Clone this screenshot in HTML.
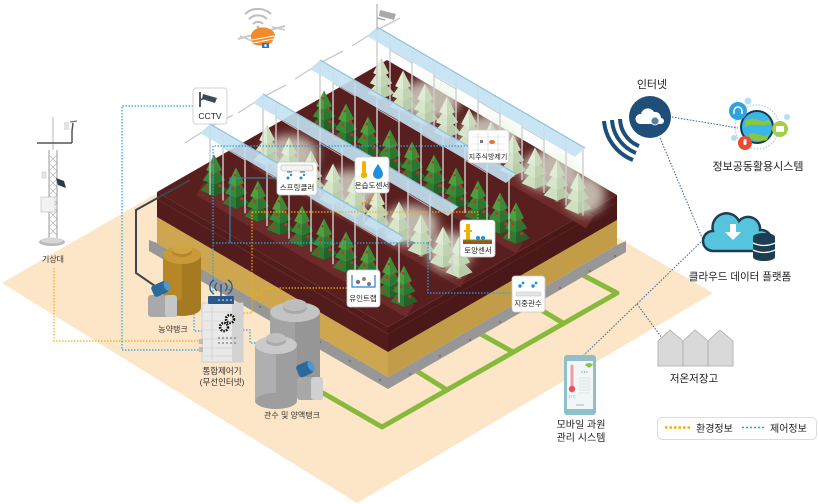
<!DOCTYPE html>
<html><head><meta charset="utf-8"><style>
html,body{margin:0;padding:0;background:#fff;}
svg{display:block;}
text{font-family:"Liberation Sans","Noto Sans CJK KR",sans-serif;}
</style></head><body>
<svg width="818" height="504" viewBox="0 0 818 504" xmlns="http://www.w3.org/2000/svg">
<defs>
<filter id="bl" x="-50%" y="-50%" width="200%" height="200%"><feGaussianBlur stdDeviation="5"/></filter>
<g id="t"><g transform="scale(1.12)">
<rect x="-2" y="-5" width="4" height="5" fill="#5b3417"/>
<polygon points="-12,-6 0,-1 12,-6 0,-19" fill="#2f7b2f"/>
<polygon points="0,-1 12,-6 0,-19" fill="#236327"/>
<polygon points="-10,-15 0,-11 10,-15 0,-29" fill="#3b8b36"/>
<polygon points="0,-11 10,-15 0,-29" fill="#2d7530"/>
<polygon points="-7,-24 0,-21 7,-24 0,-38" fill="#4e9f3d"/>
<polygon points="0,-21 7,-24 0,-38" fill="#3a8a35"/>
<circle cx="-6" cy="-8" r="1.3" fill="#d9262b"/>
<circle cx="5" cy="-10" r="1.3" fill="#d9262b"/>
<circle cx="-3" cy="-19" r="1.2" fill="#d9262b"/>
<circle cx="4" cy="-22" r="1.2" fill="#d9262b"/>
<circle cx="-1" cy="-31" r="1.1" fill="#d9262b"/>
</g></g>
<g id="m"><g transform="scale(1.12)">
<rect x="-2" y="-5" width="4" height="5" fill="#8a6a50"/>
<polygon points="-12,-6 0,-1 12,-6 0,-19" fill="#cfe0c2"/>
<polygon points="0,-1 12,-6 0,-19" fill="#b8cca9"/>
<polygon points="-10,-15 0,-11 10,-15 0,-29" fill="#d7e6cb"/>
<polygon points="0,-11 10,-15 0,-29" fill="#c0d3b2"/>
<polygon points="-7,-24 0,-21 7,-24 0,-38" fill="#e0ecd6"/>
<polygon points="0,-21 7,-24 0,-38" fill="#c9dabb"/>
</g></g>
</defs>

<!-- ground -->
<polygon points="2,283 357,503 713,293 349,82" fill="#fde6c7"/>

<!-- green pipes -->
<g stroke="#86b93c" stroke-width="5" fill="none" stroke-linecap="round" stroke-linejoin="round">
<polyline points="323,393 382,427 617,293 577,272"/>
<line x1="447" y1="390" x2="415" y2="370"/>
<line x1="513" y1="352" x2="477" y2="332"/>
<line x1="563" y1="323" x2="543" y2="311"/>
</g>

<!-- gravel -->
<polygon points="149,240 157,243 388,377 617,245 626,241 626,252 388,389 149,251" fill="#979797"/>
<g fill="#777">
<circle cx="170" cy="254" r="1.2"/><circle cx="200" cy="271" r="1.2"/><circle cx="230" cy="290" r="1.2"/><circle cx="260" cy="307" r="1.2"/><circle cx="290" cy="325" r="1.2"/><circle cx="320" cy="342" r="1.2"/><circle cx="350" cy="361" r="1.2"/><circle cx="380" cy="380" r="1.2"/><circle cx="410" cy="374" r="1.2"/><circle cx="440" cy="356" r="1.2"/><circle cx="470" cy="340" r="1.2"/><circle cx="500" cy="322" r="1.2"/><circle cx="530" cy="304" r="1.2"/><circle cx="560" cy="288" r="1.2"/><circle cx="590" cy="271" r="1.2"/><circle cx="615" cy="256" r="1.2"/>
</g>
<!-- yellow layer -->
<polygon points="157,217 388,352 388,377 157,243" fill="#cda64f"/>
<polygon points="388,352 617,220 617,245 388,377" fill="#c29c47"/>
<!-- dark soil -->
<polygon points="157,192 388,327 388,352 157,217" fill="#531c1c"/>
<polygon points="388,327 617,195 617,220 388,352" fill="#4a1818"/>
<polygon points="157,192 387,60 617,195 388,327" fill="#591f1f"/>
<line x1="157" y1="199" x2="388" y2="334" stroke="#6a2a2a" stroke-width="1"/>
<line x1="388" y1="334" x2="617" y2="202" stroke="#5e2222" stroke-width="1"/>

<!-- beds -->
<g stroke="#6c2a2a" stroke-width="15" stroke-linecap="butt">
<line x1="200" y1="189" x2="410" y2="311"/>
<line x1="255" y1="160" x2="464" y2="281"/>
<line x1="312" y1="126" x2="520" y2="247"/>
<line x1="368" y1="93" x2="590" y2="222"/>
</g>

<!-- ridge 4 (misty) -->
<g>
<g filter="url(#bl)" fill="#eef6e6" opacity="0.7">
<ellipse cx="430" cy="100" rx="30" ry="20"/><ellipse cx="490" cy="135" rx="30" ry="20"/><ellipse cx="550" cy="170" rx="30" ry="20"/><ellipse cx="585" cy="195" rx="20" ry="20"/>
</g>
<use href="#m" x="381" y="100"/><use href="#m" x="403" y="113"/><use href="#m" x="425" y="126"/><use href="#m" x="447" y="139"/><use href="#m" x="469" y="151"/><use href="#m" x="491" y="164"/><use href="#m" x="513" y="177"/><use href="#m" x="535" y="190"/><use href="#m" x="557" y="202"/><use href="#m" x="578" y="215"/>
<path d="M390,37.5v66M412,50.3v66M434,63.1v66M456,75.8v66M478,88.6v66M500,101.3v66M522,114.1v66M544,126.9v66M566,139.6v66M583,149.5v66" stroke="#cfcfcf" stroke-width="1.4"/>
<path d="M390,50 L412,63 M434,76 L456,89 M478,101 L500,114 M522,127 L544,140" stroke="#c4c4c4" stroke-width="1" fill="none"/>
<path d="M377,30 L352,46 M377,30 L400,18 M377,30 V98" stroke="#c8c8c8" stroke-width="1.3" fill="none"/>
<polygon points="377,27 585,148 575,157 367,36" fill="#c3e1f2" opacity="0.9"/>
<line x1="377" y1="27" x2="585" y2="148" stroke="#8ec0de" stroke-width="1.2"/>
</g>

<!-- ridge 3 (green) -->
<g>
<use href="#t" x="324" y="133"/><use href="#t" x="346" y="146"/><use href="#t" x="368" y="159"/><use href="#t" x="390" y="172"/><use href="#t" x="412" y="184"/><use href="#t" x="434" y="197"/><use href="#t" x="456" y="210"/><use href="#t" x="478" y="223"/><use href="#t" x="500" y="235"/><use href="#t" x="516" y="245"/>
<path d="M333,70.5v66M355,83.3v66M377,96.1v66M399,108.8v66M421,121.6v66M443,134.3v66M465,147.1v66M487,159.9v66M509,172.6v66" stroke="#cfcfcf" stroke-width="1.4"/>
<path d="M333,83 L355,96 M377,109 L399,122 M421,134 L443,147 M465,160 L487,173" stroke="#c4c4c4" stroke-width="1" fill="none"/>
<path d="M320,63 L295,79 M320,63 L343,51 M320,63 V131" stroke="#c8c8c8" stroke-width="1.3" fill="none"/>
<polygon points="320,60 516,174 506,183 310,69" fill="#c3e1f2" opacity="0.9"/>
<line x1="320" y1="60" x2="516" y2="174" stroke="#8ec0de" stroke-width="1.2"/>
</g>

<!-- ridge 2 (misty) -->
<g>
<g filter="url(#bl)" fill="#eef6e6" opacity="0.7">
<ellipse cx="290" cy="155" rx="28" ry="20"/><ellipse cx="350" cy="190" rx="28" ry="20"/><ellipse cx="410" cy="225" rx="28" ry="20"/><ellipse cx="450" cy="252" rx="22" ry="20"/>
</g>
<use href="#m" x="267" y="167"/><use href="#m" x="289" y="180"/><use href="#m" x="311" y="193"/><use href="#m" x="333" y="206"/><use href="#m" x="355" y="218"/><use href="#m" x="377" y="231"/><use href="#m" x="399" y="244"/><use href="#m" x="421" y="257"/><use href="#m" x="443" y="269"/><use href="#m" x="459" y="279"/>
<path d="M276,104.5v66M298,117.3v66M320,130.1v66M342,142.8v66M364,155.6v66M386,168.3v66M408,181.1v66M430,193.9v66M452,206.6v66" stroke="#cfcfcf" stroke-width="1.4"/>
<path d="M276,117 L298,130 M320,143 L342,156 M364,168 L386,181 M408,194 L430,207" stroke="#c4c4c4" stroke-width="1" fill="none"/>
<path d="M263,97 L238,113 M263,97 L286,85 M263,97 V165" stroke="#c8c8c8" stroke-width="1.3" fill="none"/>
<polygon points="263,94 458,207 448,216 253,103" fill="#c3e1f2" opacity="0.9"/>
<line x1="263" y1="94" x2="458" y2="207" stroke="#8ec0de" stroke-width="1.2"/>
</g>

<!-- ridge 1 (green) -->
<g>
<use href="#t" x="214" y="197"/><use href="#t" x="236" y="210"/><use href="#t" x="258" y="223"/><use href="#t" x="280" y="236"/><use href="#t" x="302" y="248"/><use href="#t" x="324" y="261"/><use href="#t" x="346" y="274"/><use href="#t" x="368" y="287"/><use href="#t" x="390" y="299"/><use href="#t" x="404" y="308"/>
<path d="M223,134.5v66M245,147.3v66M267,160.1v66M289,172.8v66M311,185.6v66M333,198.3v66M355,211.1v66M377,223.9v66M399,236.6v66" stroke="#cfcfcf" stroke-width="1.4"/>
<path d="M223,147 L245,160 M267,173 L289,186 M311,198 L333,211 M355,224 L377,237" stroke="#c4c4c4" stroke-width="1" fill="none"/>
<path d="M210,127 L185,143 M210,127 L233,115 M210,124 V195" stroke="#c8c8c8" stroke-width="1.3" fill="none"/>
<polygon points="210,124 404,237 394,246 200,133" fill="#c3e1f2" opacity="0.9"/>
<line x1="210" y1="124" x2="404" y2="237" stroke="#8ec0de" stroke-width="1.2"/>
</g>

<!-- top CCTV -->
<line x1="377" y1="4" x2="377" y2="30" stroke="#c0c0c0" stroke-width="1.5"/>
<path d="M380,10 l16,4 l-2,6 l-15,-4 z" fill="#a9a9a9"/>
<line x1="377" y1="18" x2="385" y2="20" stroke="#a9a9a9" stroke-width="1.5"/>

<!-- drone -->
<g>
<path d="M249,19 a13,13 0 0 1 18,0" stroke="#bdbdbd" stroke-width="2" fill="none"/>
<path d="M245,14 a19,19 0 0 1 26,0" stroke="#bdbdbd" stroke-width="2" fill="none"/>
<path d="M253,24 a7,7 0 0 1 10,0" stroke="#bdbdbd" stroke-width="2" fill="none"/>
<circle cx="258" cy="27" r="1.5" fill="#bdbdbd"/>
<line x1="238" y1="39" x2="285" y2="26" stroke="#c9c9c9" stroke-width="2"/>
<line x1="240" y1="36" x2="252" y2="41" stroke="#c9c9c9" stroke-width="1.5"/>
<line x1="272" y1="27" x2="285" y2="30" stroke="#c9c9c9" stroke-width="1.5"/>
<path d="M251,38 a12,9 0 0 1 24,-3 l-2,5 a12,6 0 0 1 -20,4 z" fill="#f08a2c"/>
<path d="M252,40 l22,-4" stroke="#fff" stroke-width="1"/>
<path d="M253,43 l20,-4" stroke="#fff" stroke-width="1"/>
<rect x="262" y="43" width="7" height="5" fill="#2e76b8"/>
<circle cx="265.5" cy="45.5" r="1.3" fill="#fff"/>
</g>

<!-- weather station -->
<g>
<line x1="53" y1="117" x2="53" y2="150" stroke="#cfcfcf" stroke-width="1.5"/>
<line x1="37" y1="143" x2="72" y2="143" stroke="#555" stroke-width="1.5"/>
<polyline points="72,143 72,131 73,123" stroke="#555" stroke-width="1.5" fill="none"/>
<rect x="64" y="122" width="5" height="8" fill="#e2e2e2"/>
<line x1="70" y1="122" x2="77" y2="121" stroke="#555" stroke-width="1"/>
<line x1="49" y1="150" x2="49" y2="238" stroke="#9a9a9a" stroke-width="1"/>
<line x1="57" y1="150" x2="57" y2="238" stroke="#9a9a9a" stroke-width="1"/>
<path d="M49,155 L57,163 L49,171 L57,179 L49,187 L57,195 L49,203 L57,211 L49,219 L57,227 L49,235 M57,155 L49,163 L57,171 L49,179 L57,187 L49,195 L57,203 L49,211 L57,219 L49,227 L57,235" stroke="#b5b5b5" stroke-width="0.7" fill="none"/>
<polygon points="56,178 64,181 66,188 58,185" fill="#2d3a44"/>
<rect x="42" y="172" width="4" height="6" fill="#e8e8e8" stroke="#bbb" stroke-width="0.5"/>
<rect x="41" y="197" width="14" height="15" fill="#f2f2f2" stroke="#c5c5c5" stroke-width="0.7"/>
<ellipse cx="52" cy="242" rx="13" ry="4" fill="#b9b9b9"/>
<ellipse cx="52" cy="240.5" rx="11" ry="3" fill="#d6d6d6"/>
</g>

<!-- dotted lines: yellow (env) -->
<g stroke="#f2b100" stroke-width="1.2" stroke-dasharray="1.5 1.5" fill="none">
<polyline points="54,268 54,341 200,341"/>
<polyline points="252,212 478,212 478,221"/>
<polyline points="372,194 372,202 362,202 362,212"/>
<polyline points="252,212 252,313 243,313"/>
<polyline points="347,288 262,288 262,295 252,295"/>
</g>
<!-- dotted lines: blue (control) -->
<g stroke="#1ea6e2" stroke-width="1.2" stroke-dasharray="1.5 1.5" fill="none">
<polyline points="193,106 122,106 122,350 202,350"/>
<polyline points="468,146 213,146 213,296"/>
<polyline points="213,243 428,243 428,293 512,293"/>
<polyline points="178,312 194,312 194,331 202,331"/>
<polyline points="243,330 250,330 250,343 258,343"/>
</g>
<g stroke="#2c8fc0" stroke-width="1.1" fill="none">
<polyline points="277,178 230,178 230,243"/>
</g>

<!-- dark cable -->
<polyline points="190,180 136,210 136,273 155,286" stroke="#3d4550" stroke-width="2" fill="none"/>

<!-- pesticide tank -->
<g>
<rect x="163" y="255" width="38" height="53" fill="#b68726"/>
<rect x="182" y="255" width="19" height="53" fill="#a67a20"/>
<ellipse cx="182" cy="308" rx="19" ry="8" fill="#a67a20"/>
<ellipse cx="182" cy="255" rx="19" ry="9" fill="#c99a3a"/>
<ellipse cx="182" cy="252" rx="10" ry="5" fill="#b68726"/>
<ellipse cx="182" cy="249" rx="10" ry="5" fill="#d0a444"/>
<rect x="148" y="295" width="29" height="22" rx="3" fill="#a9a9a9"/>
<rect x="165" y="295" width="12" height="22" rx="3" fill="#c6c6c6"/>
<rect x="152" y="283" width="16" height="12" rx="3" fill="#2b6a9a" transform="rotate(-25 160 289)"/>
<ellipse cx="167" cy="286" rx="3" ry="5" fill="#4f98cf" transform="rotate(-25 167 286)"/>
</g>
<text x="173" y="332" font-size="8" text-anchor="middle" fill="#333">농약탱크</text>

<!-- controller -->
<g>
<rect x="202" y="303" width="41" height="59" fill="#e9e9e9" stroke="#c9c9c9" stroke-width="0.8"/>
<rect x="232" y="303" width="11" height="59" fill="#d2d2d2"/>
<g stroke="#cfcfcf" stroke-width="0.8"><line x1="204" y1="312" x2="232" y2="312"/><line x1="204" y1="321" x2="232" y2="321"/><line x1="204" y1="330" x2="232" y2="330"/><line x1="204" y1="339" x2="232" y2="339"/><line x1="204" y1="348" x2="232" y2="348"/><line x1="204" y1="356" x2="232" y2="356"/><line x1="212" y1="305" x2="212" y2="360"/></g>
<circle cx="230" cy="319" r="4" fill="none" stroke="#111" stroke-width="2.5" stroke-dasharray="1.6 1.1"/>
<circle cx="224" cy="327" r="4" fill="none" stroke="#111" stroke-width="2.5" stroke-dasharray="1.6 1.1"/>
<g fill="#777"><circle cx="219" cy="338" r="0.9"/><circle cx="223" cy="338" r="0.9"/><circle cx="227" cy="338" r="0.9"/><circle cx="231" cy="338" r="0.9"/><circle cx="235" cy="338" r="0.9"/><circle cx="219" cy="343" r="0.9"/><circle cx="223" cy="343" r="0.9"/><circle cx="227" cy="343" r="0.9"/><circle cx="231" cy="343" r="0.9"/><circle cx="235" cy="343" r="0.9"/></g>
<rect x="199" y="339" width="4" height="5" fill="#bbb"/><rect x="199" y="347" width="4" height="5" fill="#bbb"/>
<rect x="208" y="296" width="26" height="8" rx="1" fill="#2a5a8c"/>
<g fill="#fff"><circle cx="219" cy="300" r="0.8"/><circle cx="223" cy="300" r="0.8"/><circle cx="227" cy="300" r="0.8"/><circle cx="231" cy="300" r="0.8"/></g>
<line x1="221" y1="296" x2="221" y2="284" stroke="#2a5a8c" stroke-width="1.5"/>
<g stroke="#2a5a8c" stroke-width="1.3" fill="none">
<path d="M217,283 a5,5 0 0 0 0,8"/><path d="M225,283 a5,5 0 0 1 0,8"/>
<path d="M214,280 a8,8 0 0 0 0,14"/><path d="M228,280 a8,8 0 0 1 0,14"/>
</g>
</g>
<text x="222" y="374" font-size="8.5" text-anchor="middle" fill="#333">통합제어기</text>
<text x="222" y="385" font-size="8.5" text-anchor="middle" fill="#333">(무선인터넷)</text>

<!-- irrigation tanks -->
<g>
<rect x="270" y="312" width="50" height="72" fill="#a3a3a3"/>
<rect x="295" y="312" width="25" height="72" fill="#969696"/>
<ellipse cx="295" cy="384" rx="25" ry="9" fill="#969696"/>
<ellipse cx="295" cy="312" rx="25" ry="10" fill="#c4c4c4"/>
<ellipse cx="295" cy="308" rx="12" ry="6" fill="#a9a9a9"/>
<ellipse cx="295" cy="305" rx="12" ry="6" fill="#bdbdbd"/>
<rect x="255" y="345" width="42" height="56" fill="#afafaf"/>
<rect x="276" y="345" width="21" height="56" fill="#9e9e9e"/>
<ellipse cx="276" cy="401" rx="21" ry="8" fill="#9e9e9e"/>
<ellipse cx="276" cy="345" rx="21" ry="9" fill="#cacaca"/>
<ellipse cx="276" cy="341" rx="10" ry="5" fill="#aaa"/>
<ellipse cx="276" cy="338" rx="10" ry="5" fill="#c0c0c0"/>
<rect x="297" y="377" width="26" height="23" rx="3" fill="#a8a8a8"/>
<rect x="311" y="377" width="12" height="23" rx="3" fill="#d0d0d0"/>
<rect x="297" y="363" width="15" height="13" rx="3" fill="#2b6a9a" transform="rotate(-25 304 369)"/>
<ellipse cx="311" cy="366" rx="3" ry="5.5" fill="#4f98cf" transform="rotate(-25 311 366)"/>
</g>
<text x="292" y="418" font-size="8" text-anchor="middle" fill="#333">관수 및 양액탱크</text>
<text x="53" y="262" font-size="8" text-anchor="middle" fill="#333">기상대</text>

<!-- label boxes -->
<g>
<rect x="193" y="88" width="34" height="36" rx="3" fill="#fff" stroke="#c8c8c8" stroke-width="0.8"/>
<line x1="200" y1="92" x2="200" y2="107" stroke="#3b4a5a" stroke-width="1.8"/>
<path d="M200,100 l5,-2" stroke="#3b4a5a" stroke-width="1.5"/>
<path d="M203,94 l14,4 l-2,5 l-13,-4 z" fill="#3b4a5a"/>
<circle cx="213" cy="100" r="1.2" fill="#3b4a5a"/>
<text x="210" y="119" font-size="8.5" text-anchor="middle" fill="#222">CCTV</text>

<rect x="277" y="162" width="40" height="33" rx="3" fill="#fff" stroke="#c8c8c8" stroke-width="0.8"/>
<rect x="281" y="165" width="32" height="6" rx="2" fill="#f3f3f3" stroke="#aaa" stroke-width="0.6"/>
<line x1="287" y1="172" x2="292" y2="172" stroke="#333" stroke-width="0.8"/><line x1="300" y1="172" x2="305" y2="172" stroke="#333" stroke-width="0.8"/>
<circle cx="288" cy="178" r="1.5" fill="#1e8fd8"/><circle cx="291" cy="175" r="1.2" fill="#1e8fd8"/><circle cx="301" cy="178" r="1.5" fill="#1e8fd8"/><circle cx="304" cy="175" r="1.2" fill="#1e8fd8"/>
<text x="297" y="190" font-size="7.5" text-anchor="middle" fill="#222">스프링클러</text>

<rect x="355" y="157" width="34" height="36" rx="3" fill="#fff" stroke="#c8c8c8" stroke-width="0.8"/>
<rect x="362" y="161" width="4" height="12" rx="2" fill="#f2b100"/>
<circle cx="364" cy="175" r="3.2" fill="#f2b100"/>
<path d="M378,164 q-5,7 -5,10 a5,5 0 0 0 10,0 q0,-3 -5,-10 z" fill="#1e8fd8"/>
<text x="372" y="188" font-size="7.5" text-anchor="middle" fill="#222">온습도센서</text>

<rect x="468" y="130" width="41" height="33" rx="3" fill="#fff" stroke="#c8c8c8" stroke-width="0.8"/>
<g stroke="#c9d3e0" stroke-width="0.6"><line x1="472" y1="137" x2="505" y2="137"/><line x1="472" y1="144" x2="505" y2="144"/><line x1="472" y1="150" x2="505" y2="150"/><line x1="478" y1="133" x2="478" y2="152"/><line x1="488" y1="133" x2="488" y2="152"/><line x1="498" y1="133" x2="498" y2="152"/></g>
<ellipse cx="492" cy="142" rx="3" ry="2" fill="#e0782f"/>
<rect x="480" y="140" width="3" height="3" fill="#777"/>
<text x="488" y="159" font-size="7" text-anchor="middle" fill="#222">지주식방제기</text>

<rect x="460" y="220" width="35" height="37" rx="3" fill="#fff" stroke="#c8c8c8" stroke-width="0.8"/>
<rect x="466" y="224" width="4" height="16" fill="#f2b100"/><rect x="464" y="230" width="8" height="2" fill="#f2b100"/>
<rect x="463" y="240" width="29" height="4" fill="#a5521f"/><line x1="463" y1="240" x2="492" y2="240" stroke="#5da03a" stroke-width="1"/>
<circle cx="478" cy="238" r="2" fill="#1e8fd8"/><circle cx="483" cy="238" r="2" fill="#1e8fd8"/>
<text x="478" y="253" font-size="7.5" text-anchor="middle" fill="#222">토양센서</text>

<rect x="347" y="270" width="33" height="37" rx="3" fill="#fff" stroke="#c8c8c8" stroke-width="0.8"/>
<path d="M352,275 v12 h23 v-12" stroke="#2a7fd0" stroke-width="1.2" fill="none"/>
<circle cx="358" cy="282" r="2.2" fill="#777"/><circle cx="364" cy="279" r="2" fill="#888"/><circle cx="369" cy="284" r="2" fill="#777"/>
<text x="363" y="301" font-size="7.5" text-anchor="middle" fill="#222">유인트랩</text>

<rect x="512" y="276" width="33" height="36" rx="3" fill="#fff" stroke="#c8c8c8" stroke-width="0.8"/>
<circle cx="520" cy="286" r="1.7" fill="#1e8fd8"/><circle cx="523" cy="283" r="1.4" fill="#1e8fd8"/><circle cx="533" cy="286" r="1.7" fill="#1e8fd8"/><circle cx="536" cy="283" r="1.4" fill="#1e8fd8"/>
<rect x="516" y="292" width="25" height="4" rx="1" fill="#e6e6e6" stroke="#bbb" stroke-width="0.5"/>
<text x="528" y="306" font-size="7.5" text-anchor="middle" fill="#222">지중관수</text>
</g>

<!-- network dotted lines -->
<g stroke="#3a5f8a" stroke-width="1" stroke-dasharray="1.5 1.5" fill="none">
<line x1="672" y1="117" x2="738" y2="128"/>
<line x1="660" y1="138" x2="703" y2="240"/>
<line x1="703" y1="240" x2="582" y2="357"/>
<line x1="637" y1="304" x2="662" y2="338"/>
</g>

<!-- internet -->
<g>
<g stroke="#1f4e79" stroke-width="4" fill="none">
<path d="M620,119 A30,30 0 0 0 639,146"/>
<path d="M612,120 A38,38 0 0 0 636,153"/>
<path d="M604,121 A46,46 0 0 0 633,160"/>
</g>
<circle cx="650" cy="117" r="21" fill="#1f4e79"/>
<path d="M640,124 a5,5 0 0 1 1,-10 a7,7 0 0 1 13,-2 a6,6 0 0 1 7,6 a3,3 0 0 1 0,6 z" fill="#fff"/>
<circle cx="655" cy="121" r="4" fill="#5a7fa3" stroke="#fff" stroke-width="0.8"/>
</g>
<text x="652" y="88" font-size="11" text-anchor="middle" fill="#222">인터넷</text>

<!-- globe -->
<g>
<circle cx="757" cy="127" r="22" fill="none" stroke="#9ad3ef" stroke-width="1.2" stroke-dasharray="1.5 1.5"/>
<circle cx="757" cy="127" r="16" fill="#3bb6e8" stroke="#173a50" stroke-width="2"/>
<path d="M745,121 q6,-4 14,-1 q4,2 10,0 l2,4 q-8,2 -14,1 q-6,-1 -12,2 z" fill="#8cc63f"/>
<path d="M748,134 q6,-2 12,1 q5,2 9,0 l-2,5 q-9,3 -17,-2 z" fill="#8cc63f"/>
<circle cx="738" cy="111" r="9" fill="#2ea3dc"/>
<path d="M734,114 v-3 a4,4 0 0 1 8,0 v3" stroke="#fff" stroke-width="1.5" fill="none"/>
<circle cx="745" cy="143" r="7" fill="#e84b2d"/>
<rect x="743.5" y="139" width="3" height="6" rx="1.5" fill="#fff"/>
<circle cx="780" cy="129" r="8" fill="#a5cf4a"/>
<rect x="776" y="126" width="8" height="6" rx="1" fill="#fff"/>
<circle cx="748" cy="101" r="3.5" fill="#b6def2"/>
<circle cx="787" cy="117" r="3" fill="#b6def2"/>
<circle cx="734" cy="138" r="3" fill="#b6def2"/>
</g>
<text x="758" y="170" font-size="11" text-anchor="middle" fill="#222">정보공동활용시스템</text>

<!-- cloud -->
<g>
<path d="M713,251 a10,10 0 0 1 0,-20 a14,14 0 0 1 26,-10 a12,12 0 0 1 21,9 a10,10 0 0 1 2,21 z" fill="#57c4de" stroke="#1d3d52" stroke-width="2.5"/>
<path d="M730,224 h6 v8 h5 l-8,8 l-8,-8 h5 z" fill="#fff"/>
<ellipse cx="764" cy="237" rx="11" ry="4" fill="#1d3d52"/>
<rect x="753" y="237" width="22" height="20" fill="#1d3d52"/>
<ellipse cx="764" cy="257" rx="11" ry="4" fill="#1d3d52"/>
<path d="M753,243 q11,5 22,0 M753,250 q11,5 22,0" stroke="#fff" stroke-width="1.3" fill="none"/>
</g>
<text x="740" y="280" font-size="10.5" text-anchor="middle" fill="#222">클라우드 데이터 플랫폼</text>

<!-- cold storage -->
<g fill="#d9d9d9" stroke="#a9a9a9" stroke-width="0.8">
<polygon points="658,341 670,330 683,341 683,366 658,366"/>
<polygon points="683,341 695,330 708,341 708,366 683,366"/>
<polygon points="708,341 720,330 733,341 733,366 708,366"/>
</g>
<text x="694" y="382" font-size="10.5" text-anchor="middle" fill="#222">저온저장고</text>

<!-- mobile -->
<g>
<rect x="564" y="355" width="32" height="60" rx="3" fill="#8fc0ca"/>
<rect x="567" y="361" width="26" height="48" fill="#f3f6f7"/>
<line x1="572" y1="366" x2="572" y2="386" stroke="#f29aa6" stroke-width="3" stroke-linecap="round"/>
<circle cx="572" cy="389" r="3.2" fill="#e8505f"/>
<text x="572" y="398" font-size="3.5" text-anchor="middle" fill="#8aa">17℃</text>
<g stroke="#d5dde0" stroke-width="0.8"><line x1="579" y1="378" x2="590" y2="378"/><line x1="579" y1="381" x2="590" y2="381"/><line x1="579" y1="384" x2="590" y2="384"/><line x1="579" y1="387" x2="590" y2="387"/><line x1="579" y1="390" x2="590" y2="390"/><line x1="579" y1="393" x2="590" y2="393"/></g>
<g fill="#6ab0c8"><circle cx="582" cy="372" r="0.7"/><circle cx="584.5" cy="372" r="0.7"/><circle cx="587" cy="372" r="0.7"/></g>
<path d="M585,365 a5,5 0 0 1 8,0 l-4,3 z" fill="#8cc63f"/>
<line x1="576" y1="405" x2="584" y2="405" stroke="#8fc0ca" stroke-width="1"/>
</g>
<text x="581" y="428" font-size="10" text-anchor="middle" fill="#222">모바일 과원</text>
<text x="581" y="441" font-size="10" text-anchor="middle" fill="#222">관리 시스템</text>

<!-- legend -->
<rect x="657.5" y="417.5" width="159" height="22" rx="5" fill="#fff" stroke="#dcdcdc"/>
<line x1="665" y1="427.5" x2="691" y2="427.5" stroke="#f2b100" stroke-width="2.5" stroke-dasharray="2.5 2"/>
<text x="696" y="432" font-size="10" fill="#222">환경정보</text>
<line x1="742" y1="427.5" x2="766" y2="427.5" stroke="#1ea6e2" stroke-width="1.5" stroke-dasharray="2 2"/>
<text x="770" y="432" font-size="10" fill="#222">제어정보</text>
</svg>
</body></html>
